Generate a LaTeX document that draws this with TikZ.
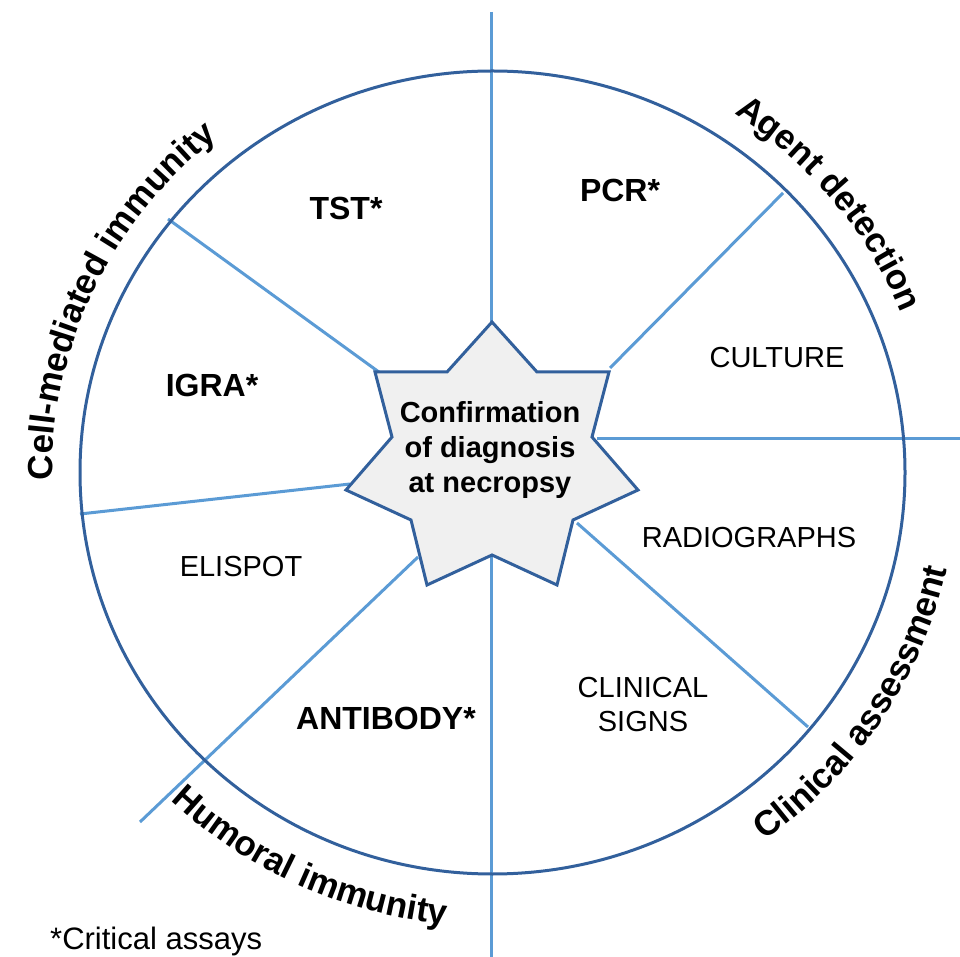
\documentclass[tikz,border=0pt]{standalone}
\usepackage{fontspec}
\setmainfont{Liberation Sans}
\usetikzlibrary{decorations.text,calc}
\definecolor{rimblue}{RGB}{50,96,156}
\definecolor{spokeblue}{RGB}{91,155,213}
\definecolor{starfill}{RGB}{240,240,240}
\begin{document}
\begin{tikzpicture}[x=1pt,y=1pt,
  spoke/.style={draw=spokeblue,line width=3pt},
  rim/.style={draw=rimblue,line width=3pt},
  boldlab/.style={font=\bfseries\fontsize{32}{36}\selectfont, inner sep=0pt},
  plainlab/.style={font=\fontsize{29}{34}\selectfont, inner sep=0pt, align=center}
]
\useasboundingbox (0,0) rectangle (960,956);
\coordinate (c) at (492.5,483.5);

% spokes
\coordinate (vt) at (491,944);
\coordinate (vb) at (491,-2);
\coordinate (hs) at (597,517);
\coordinate (he) at (962,517);
\coordinate (urs) at (610,588);
\coordinate (ure) at (783,763);
\coordinate (ule) at (168,737);
\coordinate (uls) at (383,581);
\coordinate (le) at (80,442);
\coordinate (ls) at (350,472);
\coordinate (lls) at (418,399);
\coordinate (lle) at (140,134);
\coordinate (lrs) at (577,433);
\coordinate (lre) at (808,229);

\draw[spoke] (vt) -- (vb);
\draw[spoke] (hs) -- (he);
\draw[spoke] (urs) -- (ure);
\draw[spoke] (uls) -- (ule);
\draw[spoke] (ls) -- (le);
\draw[spoke] (lls) -- (lle);
\draw[spoke] (lrs) -- (lre);

% rim
\draw[rim] (c) ellipse [x radius=412.5, y radius=401.5];

% star
\coordinate (s1) at (492,634);
\coordinate (s2) at (537,584);
\coordinate (s3) at (609,584);
\coordinate (s4) at (592,519);
\coordinate (s5) at (638,466);
\coordinate (s6) at (573,436);
\coordinate (s7) at (557,371);
\coordinate (s8) at (492,401);
\coordinate (s9) at (427,371);
\coordinate (s10) at (411,436);
\coordinate (s11) at (346,466);
\coordinate (s12) at (392,519);
\coordinate (s13) at (375,584);
\coordinate (s14) at (447,584);
\draw[rim, fill=starfill, line join=miter] (s1) -- (s2) -- (s3) -- (s4) -- (s5) -- (s6) -- (s7) -- (s8) -- (s9) -- (s10) -- (s11) -- (s12) -- (s13) -- (s14) -- cycle;

\node[font=\bfseries\fontsize{29}{35}\selectfont, align=center, inner sep=0pt] (conf) at (490,506) {Confirmation\\of diagnosis\\at necropsy};

% sector labels
\node[boldlab] (tst) at (346,748) {TST*};
\node[boldlab] (pcr) at (620,766) {PCR*};
\node[boldlab] (igra) at (212,571) {IGRA*};
\node[boldlab] (antibody) at (386,238) {ANTIBODY*};
\node[plainlab] (culture) at (777,598) {CULTURE};
\node[plainlab] (radio) at (749,418) {RADIOGRAPHS};
\node[plainlab] (elispot) at (241,389) {ELISPOT};
\node[plainlab] (clinical) at (643,251) {CLINICAL\\SIGNS};
\node[font=\fontsize{31}{36}\selectfont, anchor=base west, inner sep=0pt] (note) at (50,7) {*Critical assays};

% arc titles
\path[decorate, decoration={text along path, text align=center,
  text={|\bfseries\fontsize{35}{35}\selectfont|Agent detection}}]
  ($(c)+(80:440 and 429)$) arc[start angle=80, end angle=-2, x radius=440, y radius=429];
\path[decorate, decoration={text along path, text align=center,
  text={|\bfseries\fontsize{35}{35}\selectfont|Cell-mediated immunity}}]
  ($(c)+(200:440 and 429)$) arc[start angle=200, end angle=110, x radius=440, y radius=429];
\path[decorate, decoration={text along path, text align=center,
  text={|\bfseries\fontsize{35}{35}\selectfont|Clinical assessment}}]
  ($(c)+(282:465 and 454)$) arc[start angle=282, end angle=372, x radius=465, y radius=454];
\path[decorate, decoration={text along path, text align=center,
  text={|\bfseries\fontsize{35}{35}\selectfont|Humoral immunity}}]
  ($(c)+(200:465 and 454)$) arc[start angle=200, end angle=290, x radius=465, y radius=454];
\end{tikzpicture}
\end{document}
